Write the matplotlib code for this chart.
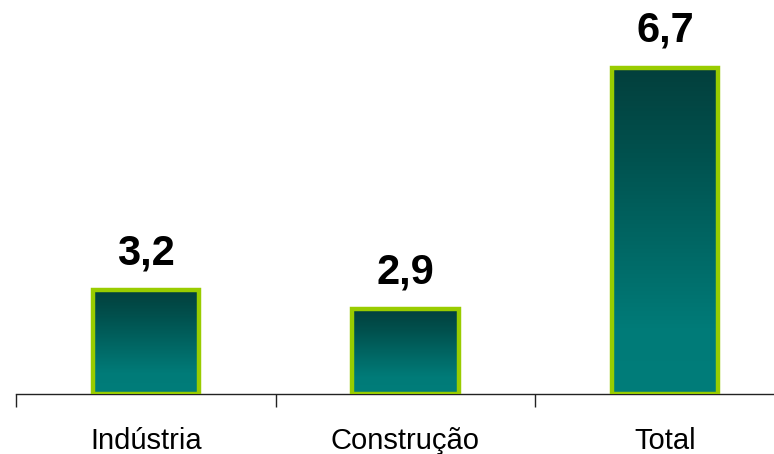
import matplotlib
matplotlib.use("Agg")
import matplotlib.pyplot as plt
import numpy as np
from matplotlib.colors import LinearSegmentedColormap

categories = ["Indústria", "Construção", "Total"]
values = [3.2, 2.9, 6.7]
labels = ["3,2", "2,9", "6,7"]

plt.rcParams['font.family'] = ['Liberation Sans', 'DejaVu Sans']

fig = plt.figure(figsize=(7.74, 4.54), dpi=100)
W, H = 774, 454
base_px = 394
scale = 63.5
bottom = 1.56
ax = fig.add_axes([16 / W, (H - base_px) / H, 779 / W, base_px / H])
ylim = (bottom, bottom + base_px / scale)

cmap = LinearSegmentedColormap.from_list(
    "g", [(0.0, "#007d7a"), (0.2, "#007b78"), (0.75, "#01504d"), (1.0, "#033f3c")])
grad = np.linspace(0, 1, 256).reshape(-1, 1)

bw = 0.41
bars = ax.bar(range(len(values)), [v - bottom for v in values], bottom=bottom,
              width=bw, facecolor="none", edgecolor="#99cc00", linewidth=3.2, zorder=3)
for i, (b, v) in enumerate(zip(bars, values)):
    im = ax.imshow(grad, cmap=cmap, origin="lower", aspect="auto",
                   extent=[i - bw / 2, i + bw / 2, bottom, v], zorder=2)
    im.set_clip_path(b)
    ax.annotate(labels[i], (i, v), xytext=(0, 12), textcoords="offset points",
                ha="center", va="bottom", fontsize=30, fontweight="bold")
ax.set_xlim(-0.5, 2.5)
ax.set_ylim(*ylim)

for s in ["top", "right", "left"]:
    ax.spines[s].set_visible(False)
ax.spines["bottom"].set_color("#222222")
ax.spines["bottom"].set_linewidth(1.0)
ax.set_yticks([])
ax.set_xticks(range(len(categories)))
ax.set_xticklabels(categories, fontsize=21)
ax.tick_params(axis="x", which="major", length=0, pad=24)
ax.set_xticks([-0.5, 0.5, 1.5, 2.5], minor=True)
ax.tick_params(axis="x", which="minor", length=9, width=1.0, color="#222222", direction="out")

fig.savefig("out.png", dpi=100)
